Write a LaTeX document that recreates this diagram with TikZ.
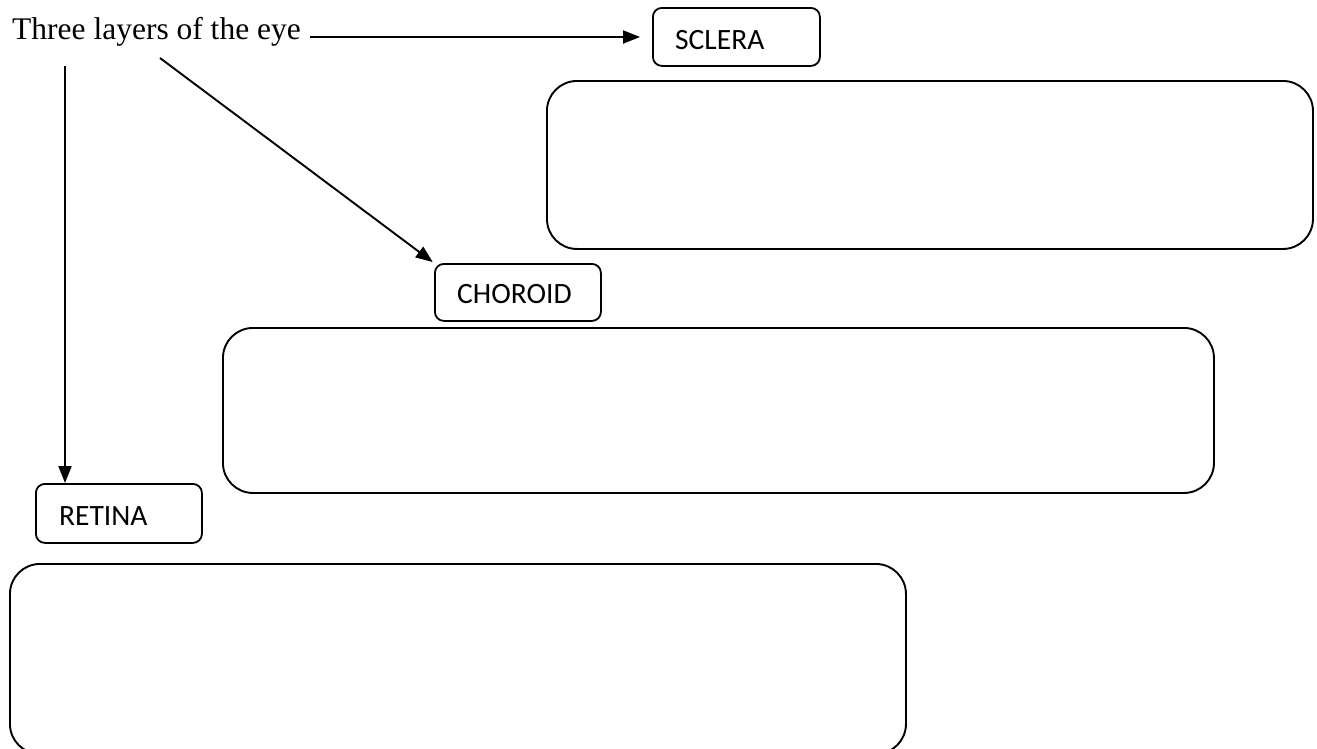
\documentclass[tikz,border=0pt]{standalone}
\usepackage{fontspec}
\setmainfont{Liberation Serif}
\newfontfamily\boxfont{Carlito}
\usetikzlibrary{arrows.meta}
\begin{document}
\begin{tikzpicture}[x=1pt,y=-1pt,
  smallbox/.style={draw, line width=1.8pt, rounded corners=9pt, anchor=north west, inner sep=0pt},
  bigbox/.style={draw, line width=1.9pt, rounded corners=30pt, anchor=north west, inner sep=0pt},
  boxlabel/.style={anchor=base west, inner sep=0pt, font=\boxfont\fontsize{29.5}{34}\selectfont},
  conn/.style={line width=1.9pt, -{Triangle[length=17pt,width=13pt]}}]
\useasboundingbox (0,0) rectangle (1317,748);
\begin{scope}
\clip (0,0) rectangle (1317,748);
% title
\node[anchor=base west, inner sep=0pt, font=\fontsize{31.5}{36}\selectfont] (title) at (12,39) {Three layers of the eye};
% small label boxes
\node[smallbox, minimum width=167pt, minimum height=58pt] (sclera) at (652,7) {};
\node[boxlabel] (sclerat) at (675,49) {SCLERA};
\node[smallbox, minimum width=166pt, minimum height=57pt] (choroid) at (434,263) {};
\node[boxlabel] (choroidt) at (457,303) {CHOROID};
\node[smallbox, minimum width=166pt, minimum height=59pt] (retina) at (35,483) {};
\node[boxlabel] (retinat) at (59,525) {RETINA};
% large answer boxes
\node[bigbox, minimum width=766pt, minimum height=168pt] (box1) at (546,80) {};
\node[bigbox, minimum width=991pt, minimum height=165pt] (box2) at (222,327) {};
\node[bigbox, minimum width=896pt, minimum height=190pt] (box3) at (9,563) {};
% connectors
\coordinate (ta) at (310,37);
\coordinate (tb) at (160,58);
\coordinate (tc) at (65,66);
\draw[conn, shorten >=12pt] (ta) -- (ta -| sclera.west);
\draw[conn, shorten >=1.5pt] (tb) -- (choroid.north west);
\draw[conn] (tc) -- (tc |- retina.north);
\end{scope}
\end{tikzpicture}
\end{document}
